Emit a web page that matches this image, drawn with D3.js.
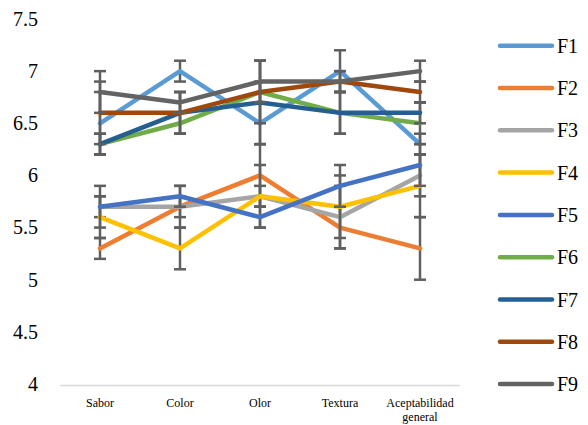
<!DOCTYPE html>
<html>
<head>
<meta charset="utf-8">
<script src="https://cdn.jsdelivr.net/npm/d3@7"></script>
<style>
  body { margin: 0; background: #fff; }
  text { font-family: "Liberation Serif", "Times New Roman", serif; fill: #000; }
</style>
</head>
<body>
<div id="chart"></div>
<script>
// categorias del eje x
var categories = ["Sabor", "Color", "Olor", "Textura", "Aceptabilidad general"];
var yTicks = [4, 4.5, 5, 5.5, 6, 6.5, 7, 7.5];
var seriesNames = ["F1", "F2", "F3", "F4", "F5", "F6", "F7", "F8", "F9"];
var seriesColors = ["#5B9BD5", "#ED7D31", "#A5A5A5", "#FFC000", "#4472C4", "#70AD47", "#255E91", "#9E480E", "#636363"];

// medias por formulacion
var f1 = [6.5, 7.0, 6.5, 7.0, 6.3];
var f2 = [5.3, 5.7, 6.0, 5.5, 5.3];
var f3 = [5.7, 5.7, 5.8, 5.6, 6.0];
var f4 = [5.6, 5.3, 5.8, 5.7, 5.9];
var f5 = [5.7, 5.8, 5.6, 5.9, 6.1];
var f6 = [6.3, 6.5, 6.8, 6.6, 6.5];
var f7 = [6.3, 6.6, 6.7, 6.6, 6.6];
var f8 = [6.6, 6.6, 6.8, 6.9, 6.8];
var f9 = [6.8, 6.7, 6.9, 6.9, 7.0];

// barras de error (+/-)
var e1 = [0.3, 0.1, 0.2, 0.2, 0.1];
var e2 = [0.1, 0.2, 0.3, 0.2, 0.3];
var e3 = [0.1, 0.1, 0.3, 0.3, 0.2];
var e4 = [0.2, 0.2, 0.1, 0.3, 0.3];
var e5 = [0.2, 0.1, 0.1, 0.2, 0.2];
var e6 = [0.1, 0.1, 0.1, 0.2, 0.2];
var e7 = [0.1, 0.2, 0.4, 0.2, 0.1];
var e8 = [0.3, 0.2, 0.3, 0.1, 0.1];
var e9 = [0.2, 0.1, 0.2, 0.1, 0.1];

var values = [f1, f2, f3, f4, f5, f6, f7, f8, f9];
var errors = [e1, e2, e3, e4, e5, e6, e7, e8, e9];

var width = 588, height = 425;

var svg = d3.select("#chart")
            .append("svg")
            .attr("width", width)
            .attr("height", height);

var xScale = d3.scaleBand()
               .domain(categories)
               .range([60, 460]);
var yScale = d3.scaleLinear()
               .domain([4, 7.5])
               .range([384, 19]);

function cx(c) { return xScale(c) + xScale.bandwidth() / 2; }

// eje x (solo la linea)
svg.append("line")
   .attr("x1", 60).attr("x2", 460)
   .attr("y1", yScale(4) + 1.5).attr("y2", yScale(4) + 1.5)
   .attr("stroke", "#d9d9d9")
   .attr("stroke-width", 1.5);

// eje y
var yAxis = svg.append("g")
   .attr("transform", "translate(38,0)")
   .call(d3.axisLeft(yScale).tickValues(yTicks).tickSize(0).tickPadding(0).tickFormat(d3.format("")));
yAxis.select(".domain").remove();
yAxis.selectAll("text")
     .style("font-family", "'Liberation Serif', serif")
     .style("font-size", "20px")
     .attr("fill", "#000")
     .attr("dy", "0.32em");

// etiquetas x
categories.forEach(function(c) {
  var words = c.split(" ");
  var t = svg.append("text")
     .attr("x", cx(c))
     .attr("y", 407)
     .attr("text-anchor", "middle")
     .style("font-size", "12px");
  words.forEach(function(w, i) {
    t.append("tspan").attr("x", cx(c)).attr("dy", i === 0 ? 0 : 14).text(w);
  });
});

var line = d3.line()
             .x(function(d, i) { return cx(categories[i]); })
             .y(function(d) { return yScale(d); });

// series: barras de error y lineas
values.forEach(function(vals, s) {
  var g = svg.append("g");
  var err = errors[s];
  vals.forEach(function(v, i) {
    var x = cx(categories[i]);
    var y0 = yScale(v - err[i]), y1 = yScale(v + err[i]);
    g.append("line").attr("x1", x).attr("x2", x).attr("y1", y0).attr("y2", y1)
     .attr("stroke", "#5f5f5f").attr("stroke-width", 2.5);
    [y0, y1].forEach(function(yy) {
      g.append("line").attr("x1", x - 6).attr("x2", x + 6).attr("y1", yy).attr("y2", yy)
       .attr("stroke", "#5f5f5f").attr("stroke-width", 2.5);
    });
  });
  g.append("path")
   .datum(vals)
   .attr("fill", "none")
   .attr("stroke", seriesColors[s])
   .attr("stroke-width", 4.5)
   .attr("stroke-linejoin", "round")
   .attr("stroke-linecap", "round")
   .attr("d", line);
});

// leyenda
var legend = svg.append("g");
seriesNames.forEach(function(name, i) {
  var y = 45.7 + i * 42.3;
  legend.append("line")
        .attr("x1", 500).attr("x2", 552)
        .attr("y1", y).attr("y2", y)
        .attr("stroke", seriesColors[i])
        .attr("stroke-width", 4.5)
        .attr("stroke-linecap", "round");
  legend.append("text")
        .attr("x", 557)
        .attr("y", y)
        .attr("dy", "0.35em")
        .style("font-size", "20px")
        .text(name);
});
</script>
</body>
</html>
